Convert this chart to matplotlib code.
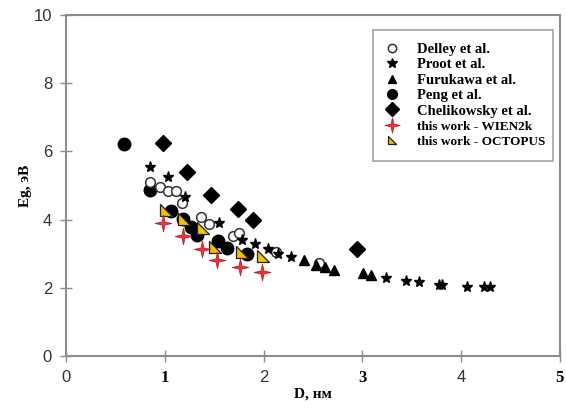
import matplotlib
matplotlib.use("Agg")
import matplotlib.pyplot as plt
from matplotlib.lines import Line2D
from matplotlib.path import Path
import numpy as np

# Delley et al.
delley_x = [0.85, 0.95, 1.03, 1.11, 1.17, 1.37, 1.45, 1.69, 1.75, 2.13, 2.56]
delley_y = [5.11, 4.97, 4.85, 4.85, 4.48, 4.09, 3.87, 3.52, 3.62, 3.06, 2.72]

# Proot et al.
proot_x = [0.85, 1.03, 1.20, 1.55, 1.78, 1.91, 2.05, 2.15, 2.28, 3.24, 3.44, 3.57, 3.78, 3.81, 4.06, 4.23, 4.29]
proot_y = [5.55, 5.24, 4.67, 3.89, 3.40, 3.27, 3.14, 2.99, 2.89, 2.30, 2.21, 2.18, 2.09, 2.08, 2.03, 2.03, 2.01]

# Furukawa et al.
furu_x = [2.41, 2.53, 2.62, 2.71, 3.01, 3.09]
furu_y = [2.81, 2.66, 2.60, 2.52, 2.42, 2.38]

# Peng et al.
peng_x = [0.59, 0.85, 1.06, 1.18, 1.27, 1.33, 1.54, 1.63, 1.83]
peng_y = [6.21, 4.88, 4.25, 4.03, 3.79, 3.55, 3.37, 3.16, 2.99]

# Chelikowsky et al.
cheli_x = [0.98, 1.23, 1.47, 1.74, 1.89, 2.95]
cheli_y = [6.26, 5.40, 4.72, 4.30, 3.99, 3.13]

# this work - WIEN2k
wien_x = [0.98, 1.18, 1.38, 1.53, 1.76, 1.98]
wien_y = [3.89, 3.52, 3.14, 2.82, 2.62, 2.47]

# this work - OCTOPUS
oct_x = [1.01, 1.19, 1.39, 1.51, 1.78, 1.99]
oct_y = [4.28, 4.03, 3.74, 3.21, 3.06, 2.94]

x_ticks = [0, 1, 2, 3, 4, 5]
y_ticks = [0, 2, 4, 6, 8, 10]

# custom markers
star4 = Path([(0, 1), (0.18, 0.18), (1, 0), (0.18, -0.18), (0, -1),
              (-0.18, -0.18), (-1, 0), (-0.18, 0.18), (0, 1)],
             [Path.MOVETO] + [Path.LINETO] * 7 + [Path.CLOSEPOLY])
rtri = Path([(-1, 1), (-1, -1), (1, -1), (-1, 1)],
            [Path.MOVETO, Path.LINETO, Path.LINETO, Path.CLOSEPOLY])

fig = plt.figure(figsize=(5.66, 4.12), dpi=100)
ax = fig.add_axes([0.1166, 0.136, 0.8724, 0.8276])

gray = "#8c8c8c"
ax.plot(peng_x, peng_y, "o", ms=9, color="black", zorder=3)
ax.plot(cheli_x, cheli_y, "D", ms=8.5, color="black", zorder=3)
ax.plot(delley_x, delley_y, "o", ms=7, mfc="white", mec="#333333", mew=1.1, zorder=4)
ax.plot(proot_x, proot_y, "*", ms=8, color="black", zorder=4)
ax.plot(furu_x, furu_y, "^", ms=7, color="black", zorder=4)
ax.plot(oct_x, oct_y, marker=rtri, ls="none", ms=9, mfc="#f2c200", mec="#222222", mew=0.9, zorder=5)
ax.plot(wien_x, wien_y, marker=star4, ls="none", ms=12, mfc="#e8343c", mec="#c02028", mew=0.6, zorder=6)

ax.set_xlim(0, 5)
ax.set_ylim(0, 10)
ax.set_xticks(x_ticks)
ax.set_yticks(y_ticks)
for s in ax.spines.values():
    s.set_color(gray)
    s.set_linewidth(1.5)
ax.tick_params(direction="inout", length=8, width=1, color=gray)
ax.tick_params(axis="y", labelsize=12, labelcolor="#333333", pad=6)
ax.tick_params(axis="x", pad=6)

for i, lab in enumerate(ax.get_xticklabels()):
    if i % 2 == 0:
        lab.set_fontfamily("Liberation Sans")
        lab.set_fontsize(12)
        lab.set_color("#333333")
    else:
        lab.set_fontfamily("Liberation Serif")
        lab.set_fontweight("bold")
        lab.set_fontsize(12)
        lab.set_color("black")
for lab in ax.get_yticklabels():
    lab.set_fontfamily("Liberation Sans")

ax.set_xlabel("D, нм", fontfamily="Liberation Serif", fontweight="bold", fontsize=11, labelpad=1)
ax.set_ylabel("Eg, эВ", fontfamily="Liberation Serif", fontweight="bold", fontsize=11, labelpad=1)

handles = [
    Line2D([], [], ls="none", marker="o", ms=6, mfc="white", mec="#333333", mew=1.1),
    Line2D([], [], ls="none", marker="*", ms=7, color="black"),
    Line2D([], [], ls="none", marker="^", ms=6, color="black"),
    Line2D([], [], ls="none", marker="o", ms=7, color="black"),
    Line2D([], [], ls="none", marker="D", ms=7, color="black"),
    Line2D([], [], ls="none", marker=star4, ms=11, mfc="#e8343c", mec="#c02028", mew=0.6),
    Line2D([], [], ls="none", marker=rtri, ms=6, mfc="#f2c200", mec="#222222", mew=0.9),
]
names = ["Delley et al.", "Proot et al.", "Furukawa et al.", "Peng et al.",
         "Chelikowsky et al.", "this work - WIEN2k", "this work - OCTOPUS"]
leg = ax.legend(handles, names, loc="upper left", bbox_to_anchor=(0.621, 0.0, 0.365, 0.955),
                mode="expand", frameon=True, fancybox=False, handlelength=1.0, handletextpad=1.2,
                labelspacing=0.15, borderpad=0.85, borderaxespad=0,
                prop={"family": "Liberation Serif", "weight": "bold", "size": 10.5})
leg.get_frame().set_edgecolor(gray)
leg.get_frame().set_linewidth(1.2)
for t in leg.get_texts()[5:]:
    t.set_fontsize(9.5)

fig.savefig("out.png", dpi=100)
